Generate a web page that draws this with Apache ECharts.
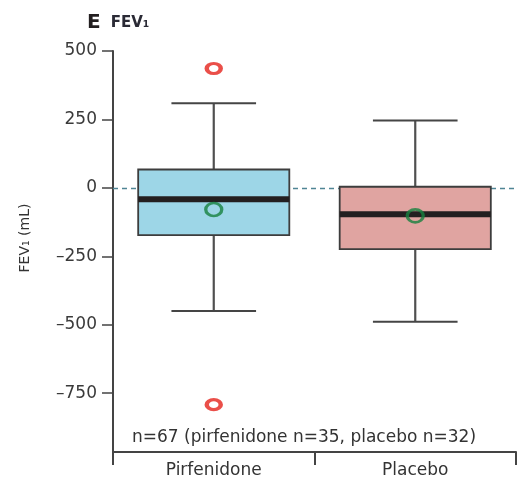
<!DOCTYPE html>
<html>
<head>
<meta charset="utf-8">
<script src="https://cdn.jsdelivr.net/npm/echarts@6/dist/echarts.min.js"></script>
<style>
  html, body { margin: 0; padding: 0; background: #fff; }
  #chart { width: 518px; height: 480px; }
</style>
</head>
<body>
<div id="chart"></div>
<script>
// Change in FEV1 (mL) by treatment group
const categories = ['Pirfenidone', 'Placebo'];
const lowerWhisker = [-450, -489];
const q1 = [-173, -224];
const median = [-42, -96];
const q3 = [67, 4];
const upperWhisker = [309, 246];
const means = [-79, -102];
const outlierGroup = [0, 0];
const outlierValues = [436, -792];
const yTicks = [500, 250, 0, -250, -500, -750];
const boxColors = ['#9dd6e7', '#e0a4a1'];

const FONT = 'DejaVu Sans';

const boxData = categories.map((c, i) => [i, lowerWhisker[i], q1[i], median[i], q3[i], upperWhisker[i]]);
const meanData = categories.map((c, i) => [i, means[i]]);
const outlierData = outlierValues.map((v, i) => [outlierGroup[i], v]);

function renderBox(params, api) {
  const idx = api.value(0);
  const bandW = api.size([1, 0])[0];
  const boxW = bandW * 0.75;
  const capW = bandW * 0.42;
  const lo = api.coord([idx, api.value(1)]);
  const b1 = api.coord([idx, api.value(2)]);
  const md = api.coord([idx, api.value(3)]);
  const b3 = api.coord([idx, api.value(4)]);
  const hi = api.coord([idx, api.value(5)]);
  const cx = lo[0];
  const whisker = { stroke: '#505050', lineWidth: 2.2 };
  const cap = { stroke: '#454545', lineWidth: 2 };
  return {
    type: 'group',
    children: [
      { type: 'line', shape: { x1: cx, y1: hi[1], x2: cx, y2: b3[1] }, style: whisker },
      { type: 'line', shape: { x1: cx, y1: b1[1], x2: cx, y2: lo[1] }, style: whisker },
      { type: 'line', shape: { x1: cx - capW / 2, y1: hi[1], x2: cx + capW / 2, y2: hi[1] }, style: cap },
      { type: 'line', shape: { x1: cx - capW / 2, y1: lo[1], x2: cx + capW / 2, y2: lo[1] }, style: cap },
      {
        type: 'rect',
        shape: { x: cx - boxW / 2, y: b3[1], width: boxW, height: b1[1] - b3[1] },
        style: { fill: boxColors[idx], stroke: '#3d3d3d', lineWidth: 1.8 }
      },
      {
        type: 'line',
        shape: { x1: cx - boxW / 2, y1: md[1], x2: cx + boxW / 2, y2: md[1] },
        style: { stroke: '#231f20', lineWidth: 6 }
      }
    ]
  };
}

const chart = echarts.init(document.getElementById('chart'), null, { renderer: 'canvas' });

chart.setOption({
  animation: false,
  backgroundColor: '#ffffff',
  title: {
    text: '{e|E}  {f|FEV₁}',
    left: 82,
    top: 8,
    textStyle: {
      rich: {
        e: { fontFamily: FONT, fontSize: 20, fontWeight: 'bold', color: '#231f20' },
        f: { fontFamily: FONT, fontSize: 15, fontWeight: 'bold', color: '#2a2a35' }
      }
    }
  },
  grid: { left: 113, right: 2, top: 51, bottom: 28, containLabel: false },
  xAxis: {
    type: 'category',
    data: categories,
    boundaryGap: true,
    axisLine: { show: true, onZero: false, lineStyle: { color: '#444', width: 2 } },
    axisTick: { show: true, inside: false, length: 13, alignWithLabel: false, lineStyle: { color: '#444', width: 2 } },
    axisLabel: { fontFamily: FONT, fontSize: 17, color: '#333', margin: 10 },
    splitLine: { show: false }
  },
  yAxis: {
    type: 'value',
    min: -965,
    max: 500,
    axisLine: { show: true, lineStyle: { color: '#444', width: 2 } },
    axisTick: { show: true, inside: false, length: 11, customValues: yTicks, lineStyle: { color: '#444', width: 1.5 } },
    axisLabel: {
      fontFamily: FONT,
      fontSize: 17,
      color: '#3a3a3a',
      margin: 16,
      customValues: yTicks,
      formatter: v => (v < 0 ? '–' + Math.abs(v) : String(v))
    },
    splitLine: { show: false }
  },
  graphic: [
    {
      type: 'text',
      x: 25,
      y: 238,
      rotation: Math.PI / 2,
      style: {
        text: 'FEV₁ (mL)',
        fontFamily: FONT,
        fontSize: 14,
        fill: '#333',
        align: 'center',
        verticalAlign: 'middle'
      }
    },
    {
      type: 'text',
      left: 132,
      top: 429,
      style: {
        text: 'n=67 (pirfenidone n=35, placebo n=32)',
        fontFamily: FONT,
        fontSize: 17,
        fill: '#333'
      }
    }
  ],
  series: [
    {
      type: 'line',
      data: [],
      z: 1,
      silent: true,
      markLine: {
        silent: true,
        symbol: 'none',
        label: { show: false },
        lineStyle: { color: '#4f8595', type: [5, 4], width: 1.3 },
        data: [{ yAxis: 0 }]
      }
    },
    {
      type: 'custom',
      z: 10,
      renderItem: renderBox,
      encode: { x: 0, y: [1, 2, 3, 4, 5] },
      data: boxData
    },
    {
      type: 'scatter',
      z: 11,
      symbol: 'circle',
      symbolSize: [16, 13],
      itemStyle: { color: 'rgba(0,0,0,0)', borderColor: '#17813f', borderWidth: 3 },
      data: meanData
    },
    {
      type: 'scatter',
      z: 11,
      symbol: 'circle',
      symbolSize: [14, 10],
      itemStyle: { color: 'rgba(0,0,0,0)', borderColor: '#e5231b', borderWidth: 3.8 },
      data: outlierData
    }
  ]
});
</script>
</body>
</html>
